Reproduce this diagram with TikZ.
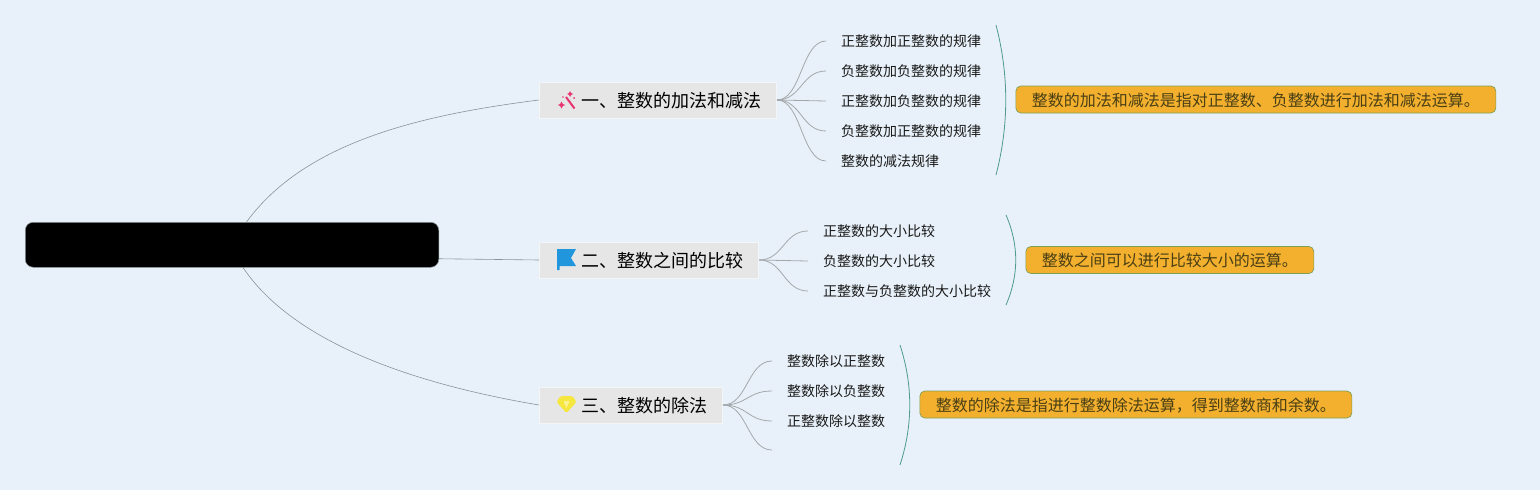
\documentclass[tikz,border=0pt]{standalone}
\usepackage{fontspec}
\setmainfont{Noto Sans CJK SC}
\usetikzlibrary{calc}
\definecolor{bgc}{HTML}{E8F1F9}
\definecolor{topicfill}{HTML}{E6E6E6}
\definecolor{topicedge}{HTML}{F3F6F9}
\definecolor{calloutfill}{HTML}{F2B02E}
\definecolor{calloutedge}{HTML}{7F9F55}
\definecolor{callouttext}{HTML}{4A3F15}
\definecolor{bracec}{HTML}{4F9A8C}
\definecolor{mainline}{HTML}{8A9296}
\definecolor{subline}{HTML}{A3A8AB}
\definecolor{wandc}{HTML}{E8336D}
\definecolor{flagc}{HTML}{2196DC}
\definecolor{gemc}{HTML}{F6E73F}
\tikzset{
  x=1pt,y=-1pt,
  central/.style={draw=mainline,line width=0.5pt,fill=black,rounded corners=8pt,minimum width=413.5pt,minimum height=45pt,inner sep=0pt,anchor=north west},
  topic/.style={draw=topicedge,line width=1pt,fill=topicfill,minimum height=36pt,inner xsep=0pt,inner ysep=0pt,anchor=west,text height=15.6pt,text depth=0pt,font=\fontsize{18}{22}\selectfont,text=black},
  leaf/.style={anchor=west,inner xsep=15pt,inner ysep=0pt,font=\fontsize{14}{18}\selectfont,text=black!90},
  callout/.style={draw=calloutedge,line width=0.7pt,fill=calloutfill,rounded corners=5pt,minimum height=27pt,inner xsep=16pt,inner ysep=0pt,anchor=west,text height=13.2pt,text depth=0pt,font=\fontsize{16}{20}\selectfont,text=callouttext},
  mainlink/.style={draw=mainline,line width=0.6pt},
  sublink/.style={draw=subline,line width=0.8pt},
  bracket/.style={draw=bracec,line width=0.8pt},
}
\newcommand{\leafcurve}[2]{\draw[sublink] let \p1=(#1),\p2=(#2) in (#1) .. controls (\x1/2+\x2/2,\y1) and (\x1/2+\x2/2,\y2) .. (#2);}
\newcommand{\toptxt}[1]{\hspace*{42pt}#1\hspace*{15pt}}
\begin{document}
\begin{tikzpicture}
\useasboundingbox (0,0) rectangle (1540,490);
\fill[bgc] (0,0) rectangle (1540,490);

\node[central] (root) at (25,222) {};
\node[topic] (t1) at (539,100) {\toptxt{一、整数的加法和减法}};
\node[topic] (t2) at (539,260) {\toptxt{二、整数之间的比较}};
\node[topic] (t3) at (539,405) {\toptxt{三、整数的除法}};

\draw[mainlink] ([xshift=221.5pt]root.north west) .. controls (305,142) and (420,115) .. (t1.west);
\draw[mainlink] ([yshift=-14pt]root.east) -- (t2.west);
\draw[mainlink] ([xshift=218pt]root.south west) .. controls (295,345) and (420,385) .. (t3.west);

% branch 1
\node[leaf] (a1) at (826,41) {正整数加正整数的规律};
\node[leaf] (a2) at (826,71) {负整数加负整数的规律};
\node[leaf] (a3) at (826,101) {正整数加负整数的规律};
\node[leaf] (a4) at (826,131) {负整数加正整数的规律};
\node[leaf] (a5) at (826,161) {整数的减法规律};
\foreach \lf in {a1,a2,a3,a4,a5}{\leafcurve{t1.east}{\lf.west}}

% branch 2
\node[leaf] (b1) at (808,231) {正整数的大小比较};
\node[leaf] (b2) at (808,261) {负整数的大小比较};
\node[leaf] (b3) at (808,291) {正整数与负整数的大小比较};
\foreach \lf in {b1,b2,b3}{\leafcurve{t2.east}{\lf.west}}

% branch 3
\node[leaf] (c1) at (772,361) {整数除以正整数};
\node[leaf] (c2) at (772,391) {整数除以负整数};
\node[leaf] (c3) at (772,421) {正整数除以整数};
\coordinate (c4) at (772,450);
\foreach \lf in {c1.west,c2.west,c3.west,c4}{\leafcurve{t3.east}{\lf}}

% brackets
\coordinate (ba) at (996,25); \coordinate (bb) at (996,175);
\coordinate (bc) at (1006,215); \coordinate (bd) at (1006,305);
\coordinate (be) at (900,345); \coordinate (bf) at (900,465);
\draw[bracket] (ba) .. controls (1009,75) and (1009,125) .. (bb);
\draw[bracket] (bc) .. controls (1019,245) and (1019,275) .. (bd);
\draw[bracket] (be) .. controls (913,385) and (913,425) .. (bf);

% callouts
\node[callout] (k1) at (1015.5,99.5) {整数的加法和减法是指对正整数、负整数进行加法和减法运算。};
\node[callout] (k2) at (1025.5,260) {整数之间可以进行比较大小的运算。};
\node[callout] (k3) at (919.5,404.5) {整数的除法是指进行整数除法运算，得到整数商和余数。};

% icon: wand
\draw[wandc,line width=2pt] (566,97) -- (574.5,108.5);
\fill[wandc] (561.5,101.5) -- (562.8,104) -- (565.2,105) -- (562.8,106) -- (561.5,108.5) -- (560.2,106) -- (557.8,105) -- (560.2,104) -- cycle;
\fill[wandc] (570,91) -- (571,93) -- (573,94) -- (571,95) -- (570,97) -- (569,95) -- (567,94) -- (569,93) -- cycle;
\fill[wandc] (574,98) circle (1);
\fill[wandc] (563,97) circle (0.8);
% icon: flag
\fill[flagc] (557,249) -- (576,249) -- (571,258) -- (576,266) -- (559.5,266) -- (559.5,270) -- (557,270) -- cycle;
% icon: gem
\fill[gemc,rounded corners=1.5pt] (560.5,396) -- (572.5,396) -- (576.5,402) -- (566.5,413) -- (556.5,402) -- cycle;
\fill[gemc!55!white] (563.5,401) -- (569.5,401) -- (566.5,408) -- cycle;
\end{tikzpicture}
\end{document}
